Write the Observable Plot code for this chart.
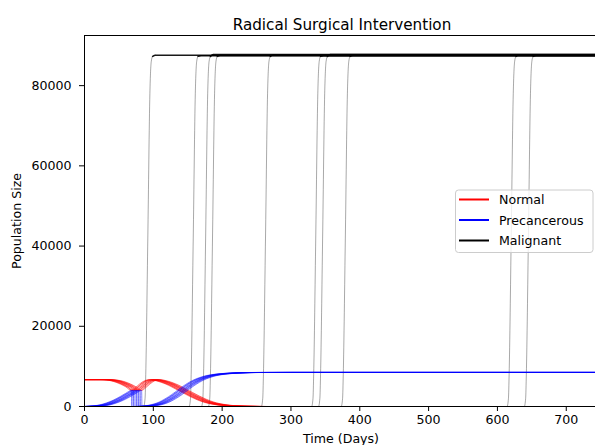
<!DOCTYPE html>
<html>
<head>
<meta charset="utf-8">
<script src="https://cdn.jsdelivr.net/npm/d3@7"></script>
<script src="https://cdn.jsdelivr.net/npm/@observablehq/plot@0.6"></script>
<style>
  body { margin: 0; background: #fff; overflow: hidden; }
  #chart { width: 595px; height: 445px; }
</style>
</head>
<body>
<div id="chart"></div>
<script>
// ---- tick labels / axis ranges ----
const dayTicks = [0, 100, 200, 300, 400, 500, 600, 700];
const popTicks = [0, 20000, 40000, 60000, 80000];
const xMax = 742.5;
const yMax = 92500;

// ---- Normal cells: curve shape (run with surgery at day 76) ----
const normalDays = [0, 30, 40, 50, 60, 68, 76, 82, 88, 95, 102, 110, 120, 130, 140, 150, 160, 170, 180, 190, 200, 215, 235, 260, 750];
const normalVals = [6700, 6700, 6600, 6250, 5600, 4900, 4000, 4700, 5600, 6400, 6700, 6500, 6000, 5300, 4400, 3500, 2600, 1800, 1150, 700, 400, 180, 50, 0, 0];

// ---- Precancerous cells: growth, surgical removal, regrowth ----
const precDays = [0, 10, 20, 30, 40, 50, 60, 68, 76, 76.5, 85, 95, 105, 115, 125, 135, 145, 155, 165, 175, 185, 200, 220, 250, 300, 750];
const precVals = [0, 40, 150, 400, 900, 1600, 2500, 3300, 4000, 0, 30, 150, 450, 1000, 1900, 3000, 4300, 5500, 6500, 7200, 7700, 8100, 8350, 8480, 8500, 8500];

// ---- per-run timing offsets (days) of the surgery / regrowth ----
const runShift = [-8, -6, -5, -3, -1, 0, 2, 3, 5, 7];

// ---- Malignant cells: onset day of each run, the rise and the plateau ----
const malignantOnset = [89, 155, 173, 183, 260, 333, 343, 376, 617, 642];
const malignantPlateau = [87600, 87450, 87750, 87500, 87650, 87450, 87750, 87550, 87650, 87500];
const riseDays = [-3, -1, 0, 3, 6, 8, 10, 14];
const riseVals = [0, 2000, 8000, 42000, 78000, 86000, 87300];

// ---- legend ----
const seriesNames = ["Normal", "Precancerous", "Malignant"];
const seriesColors = ["#ff0000", "#0000ff", "#000000"];

// build tables
const normalRows = [], precRows = [], malRise = [], malPlateau = [];
runShift.forEach((s, run) => {
  normalDays.forEach((d, i) => normalRows.push({run, t: (d > 0 && d < 750) ? d + s : d, v: normalVals[i]}));
  precDays.forEach((d, i) => precRows.push({run, t: (d > 0 && d < 750) ? d + s : d, v: precVals[i]}));
});
malignantOnset.forEach((b, run) => {
  malRise.push({run, t: 0, v: 0});
  riseDays.forEach((d, i) => malRise.push({run, t: b + d, v: i < riseVals.length ? riseVals[i] : malignantPlateau[run]}));
  malPlateau.push({run, t: b + riseDays[riseDays.length - 2], v: riseVals[riseVals.length - 1]});
  malPlateau.push({run, t: b + riseDays[riseDays.length - 1], v: malignantPlateau[run]});
  malPlateau.push({run, t: 750, v: malignantPlateau[run]});
});

const plot = Plot.plot({
  width: 595,
  height: 445,
  marginLeft: 84,
  marginRight: 0,
  marginTop: 35,
  marginBottom: 39,
  style: {fontFamily: "'DejaVu Sans', sans-serif", fontSize: "12.6px", color: "#000", background: "#fff"},
  x: {domain: [0, xMax]},
  y: {domain: [0, yMax]},
  marks: [
    Plot.line(malRise, {x: "t", y: "v", z: "run", stroke: seriesColors[2], strokeOpacity: 0.38, strokeWidth: 0.9, curve: "monotone-x", clip: true}),
    Plot.line(malPlateau, {x: "t", y: "v", z: "run", stroke: seriesColors[2], strokeOpacity: 0.9, strokeWidth: 1.5, curve: "monotone-x", clip: true}),
    Plot.line(normalRows, {x: "t", y: "v", z: "run", stroke: seriesColors[0], strokeOpacity: 0.6, strokeWidth: 0.9, curve: "monotone-x", clip: true}),
    Plot.line(precRows, {x: "t", y: "v", z: "run", stroke: seriesColors[1], strokeOpacity: 0.55, strokeWidth: 0.9, curve: "monotone-x", clip: true}),
    Plot.ruleX([0], {stroke: "#000", strokeWidth: 1}),
    Plot.ruleY([0], {stroke: "#000", strokeWidth: 1}),
    Plot.ruleY([yMax], {stroke: "#000", strokeWidth: 1}),
    Plot.axisX({ticks: dayTicks, tickSize: 5, tickPadding: 4, label: null, tickFormat: d3.format("d")}),
    Plot.axisY({ticks: popTicks, tickSize: 5, tickPadding: 8, label: null, tickFormat: d3.format("d")})
  ]
});

const svg = d3.select(plot);
svg.append("text").attr("x", 342).attr("y", 29.5).attr("text-anchor", "middle")
  .style("font-size", "15.2px").attr("fill", "#000").text("Radical Surgical Intervention");
svg.append("text").attr("x", 341).attr("y", 443).attr("text-anchor", "middle")
  .attr("fill", "#000").text("Time (Days)");
svg.append("text").attr("transform", "translate(20.9,221) rotate(-90)").attr("text-anchor", "middle")
  .attr("fill", "#000").text("Population Size");

// legend
const lg = svg.append("g");
lg.append("rect").attr("x", 455.5).attr("y", 190).attr("width", 137.5).attr("height", 62.5)
  .attr("rx", 3).attr("fill", "#fff").attr("fill-opacity", 0.8).attr("stroke", "#cccccc").attr("stroke-width", 1);
const rowY = [199.5, 220, 240.5];
seriesNames.forEach((name, i) => {
  lg.append("line").attr("x1", 459).attr("x2", 489).attr("y1", rowY[i]).attr("y2", rowY[i])
    .attr("stroke", seriesColors[i]).attr("stroke-width", 2);
  lg.append("text").attr("x", 499).attr("y", rowY[i]).attr("dy", "0.36em")
    .attr("text-anchor", "start").attr("fill", "#000").text(name);
});

document.getElementById("chart").appendChild(plot);
</script>
</body>
</html>
